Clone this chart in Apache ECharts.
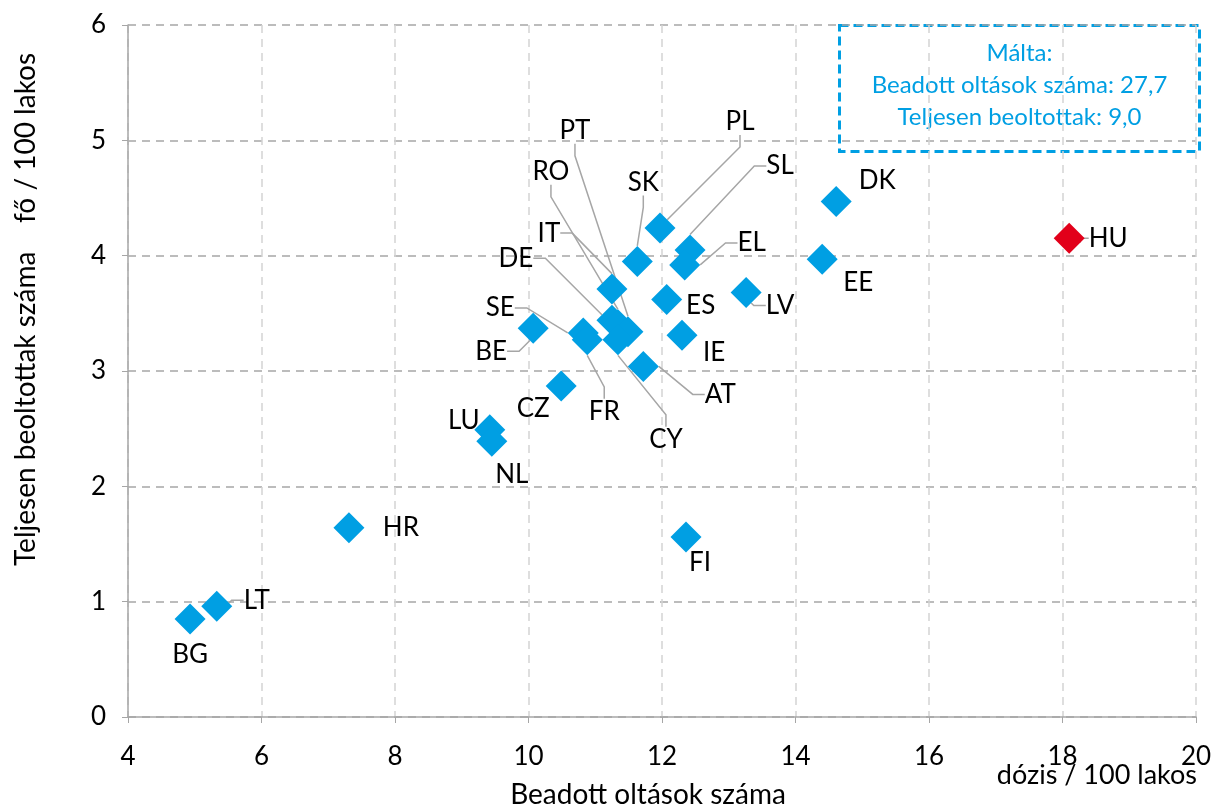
<html>
<head>
    <meta charset="utf-8" />
    <title>Oltások</title>
    <script src="https://cdn.jsdelivr.net/npm/echarts@6/dist/echarts.min.js"></script>
    <style>
        html, body { margin: 0; padding: 0; background: #fff; }
        #chart { width: 1215px; height: 810px; }
    </style>
</head>
<body>
<div id="chart"></div>
<script>
    // országkódok, beadott dózis / 100 lakos, teljesen beoltottak / 100 lakos
    const countries = ['BG', 'LT', 'HR', 'LU', 'NL', 'CZ', 'BE', 'SE', 'FR', 'DE', 'IT', 'RO', 'PT', 'CY',
        'SK', 'PL', 'SL', 'EL', 'ES', 'IE', 'AT', 'LV', 'DK', 'EE', 'HU', 'FI'];
    const doses = [4.93, 5.33, 7.31, 9.42, 9.45, 10.49, 10.07, 10.82, 10.88, 11.25, 11.25, 11.34, 11.49, 11.34,
        11.63, 11.97, 12.42, 12.34, 12.07, 12.30, 11.72, 13.26, 14.61, 14.40, 18.10, 12.36];
    const fully = [0.85, 0.96, 1.64, 2.49, 2.39, 2.87, 3.37, 3.33, 3.27, 3.44, 3.71, 3.40, 3.34, 3.27,
        3.95, 4.24, 4.05, 3.92, 3.62, 3.31, 3.04, 3.68, 4.47, 3.97, 4.15, 1.56];

    // címke eltolás (dx, dy) és vezetővonal
    const labelPos = {
        BG: [0, 36, 0], LT: [40, -6, 1], HR: [52, 0, 0], LU: [-26, -9, 0], NL: [20, 33, 0],
        CZ: [-28, 23, 0], BE: [-42, 23, 1], SE: [-83, -25, 1], FR: [17, 72, 1], DE: [-96, -62, 1],
        IT: [-63, -56, 1], RO: [-67, -153, 1], PT: [-53, -201, 1], CY: [48, 100, 1], SK: [6, -79, 1],
        PL: [80, -106, 1], SL: [90, -84, 1], EL: [67, -22, 1], ES: [34, 6, 0], IE: [32, 17, 0],
        AT: [77, 28, 1], LV: [34, 13, 1], DK: [41, -21, 0], EE: [36, 23, 0], HU: [39, 0, 1], FI: [14, 26, 0]
    };

    const blue = '#009FE3';
    const font = 'Lato, "Open Sans", sans-serif';

    const data = countries.map((c, i) => ({
        name: c,
        value: [doses[i], fully[i]],
        itemStyle: { color: c === 'HU' ? '#E2001A' : blue, opacity: 1 },
        labelLine: { show: labelPos[c][2] === 1 }
    }));

    const chart = echarts.init(document.getElementById('chart'));
    chart.setOption({
        animation: false,
        grid: { left: 128, right: 19, top: 25, bottom: 93, outerBoundsMode: 'none', containLabel: false },
        xAxis: {
            type: 'value', min: 4, max: 20, interval: 2,
            axisLine: { show: true, lineStyle: { color: '#a6a6a6', width: 1.5 } },
            axisTick: { show: true, length: 6, lineStyle: { color: '#a6a6a6' } },
            axisLabel: { color: '#000', fontSize: 26, fontFamily: font, margin: 27 },
            splitLine: { show: true, lineStyle: { color: '#d4d4d4', type: [8, 6], width: 1.5 } },
            name: 'Beadott oltások száma', nameLocation: 'middle', nameGap: 64,
            nameTextStyle: { color: '#000', fontSize: 28, fontFamily: font, padding: [0, 28, 0, 0] }
        },
        yAxis: {
            type: 'value', min: 0, max: 6, interval: 1,
            axisLine: { show: true, lineStyle: { color: '#a6a6a6', width: 1.5 } },
            axisTick: { show: true, length: 6, lineStyle: { color: '#a6a6a6' } },
            axisLabel: { color: '#000', fontSize: 26, fontFamily: font, margin: 22 },
            splitLine: { show: true, lineStyle: { color: '#a6a6a6', type: [8, 6], width: 1.5 } }
        },
        graphic: [
            {
                type: 'text', x: 1197, y: 775,
                style: { text: 'dózis / 100 lakos', fill: '#000', font: '27px ' + font, align: 'right', verticalAlign: 'middle' }
            },
            {
                type: 'text', x: 12, y: 566, rotation: Math.PI / 2,
                style: { text: 'Teljesen beoltottak száma    fő / 100 lakos', fill: '#000', font: '28px ' + font }
            },
            {
                type: 'group', left: 838, top: 24,
                children: [
                    {
                        type: 'rect', shape: { x: 0, y: 0, width: 360, height: 126 },
                        style: { fill: '#fff', stroke: blue, lineWidth: 3, lineDash: [9, 5] }
                    },
                    {
                        type: 'text', x: 180, y: 60,
                        style: {
                            text: 'Málta:\nBeadott oltások száma: 27,7\nTeljesen beoltottak: 9,0',
                            fill: blue, font: '24px ' + font, align: 'center', verticalAlign: 'middle',
                            lineHeight: 32
                        }
                    }
                ]
            }
        ],
        series: [{
            type: 'scatter',
            symbol: 'diamond',
            symbolSize: 31,
            data: data,
            label: {
                show: true, position: 'inside', formatter: '{b}',
                color: '#000', fontSize: 26, fontFamily: font, textBorderWidth: 0
            },
            labelLine: { show: true, length2: 12, lineStyle: { color: '#a6a6a6', width: 1.5 } },
            labelLayout: function (p) {
                const c = countries[p.dataIndex];
                return { dx: labelPos[c][0], dy: labelPos[c][1] };
            }
        }]
    });
</script>
</body>
</html>
